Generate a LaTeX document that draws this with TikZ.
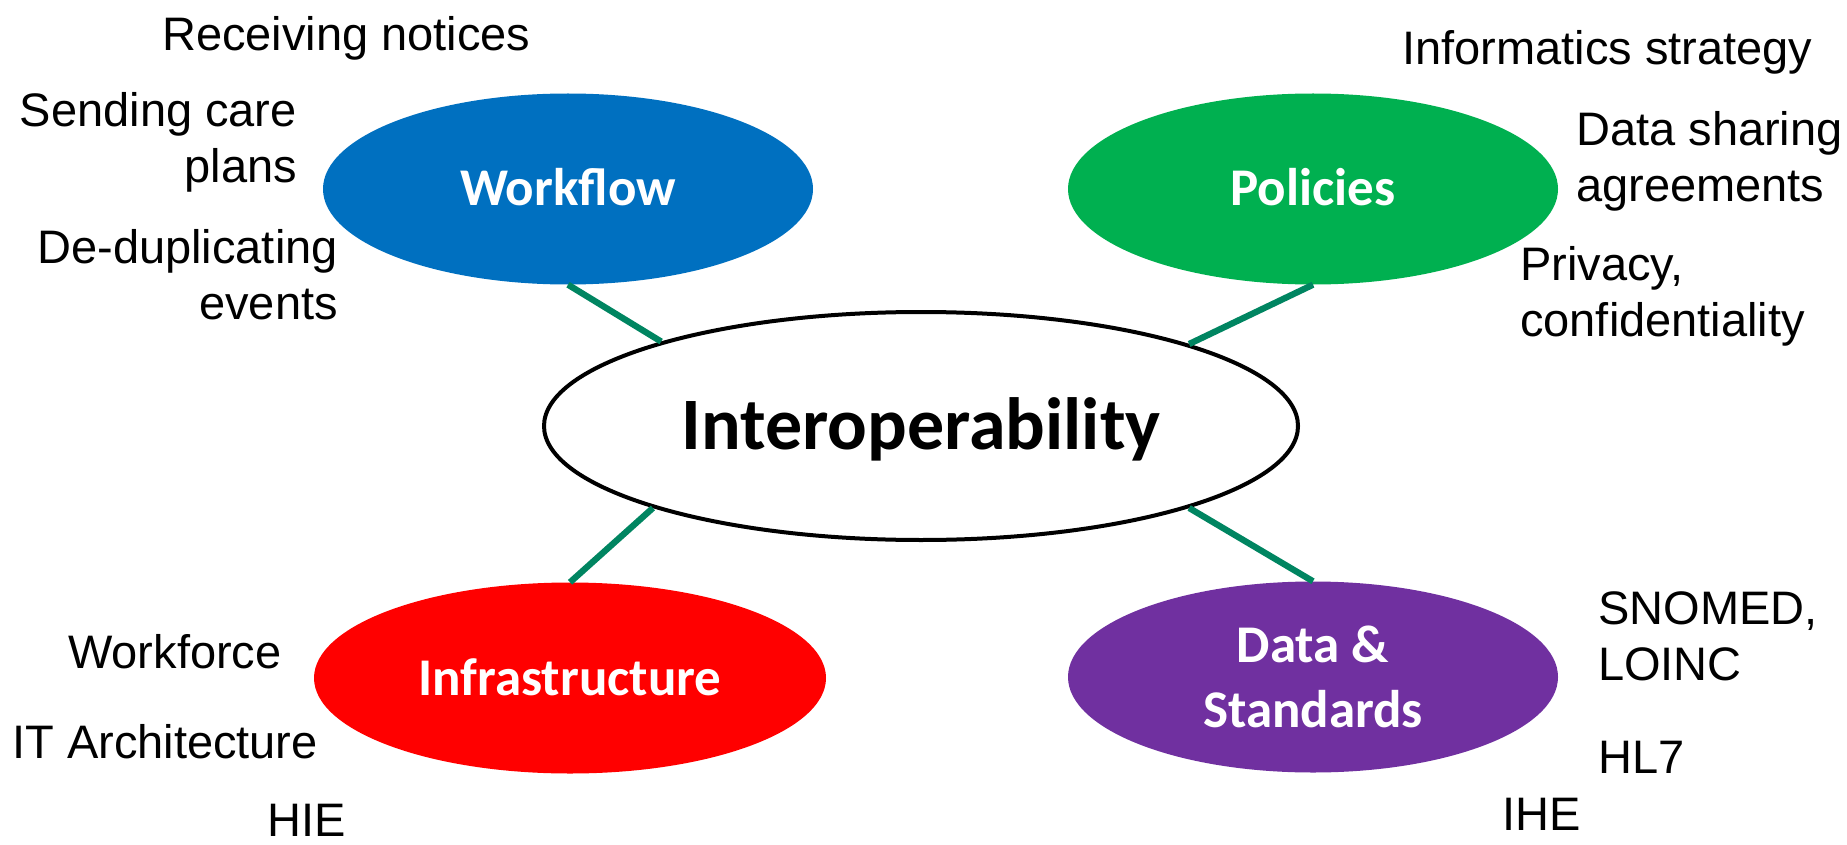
\documentclass[tikz,border=0pt]{standalone}
\usepackage{fontspec}
\setmainfont{Liberation Sans}
\newfontfamily\titlefont{Carlito}
\usetikzlibrary{shapes.geometric}
\definecolor{wfblue}{HTML}{0070C0}
\definecolor{polgreen}{HTML}{00B050}
\definecolor{infred}{HTML}{FF0000}
\definecolor{dspurple}{HTML}{7030A0}
\definecolor{linkteal}{HTML}{008561}
\begin{document}
\begin{tikzpicture}[x=1pt,y=-1pt,
  hub/.style={ellipse, draw=black, line width=4pt, fill=white, inner sep=0pt,
    minimum width=754pt, minimum height=228pt,
    font=\titlefont\bfseries\fontsize{74}{88}\selectfont, text height=47.5pt, text depth=0pt},
  topic/.style={ellipse, inner sep=0pt, minimum width=490pt, minimum height=191pt,
    text=white, font=\titlefont\bfseries\fontsize{53}{64.5}\selectfont, align=center},
  onetitle/.style={text height=34pt, text depth=0pt},
  link/.style={line width=6.3pt, draw=linkteal},
  lbl/.style={inner sep=0pt, font=\fontsize{47}{56}\selectfont}]
\fill[white] (0,0) rectangle (1847,845);
\useasboundingbox (0,0) rectangle (1847,845);

\node[hub] (hub) at (921,426) {Interoperability};
\node[topic, onetitle, fill=wfblue] (wf) at (568,189) {Workflow};
\node[topic, onetitle, fill=polgreen] (pol) at (1313,189) {Policies};
\node[topic, onetitle, fill=infred, minimum width=512pt] (inf) at (570,678) {Infrastructure};
\node[topic, fill=dspurple] (ds) at (1313,677) {Data \&\\Standards};

\draw[link] (wf.south) -- (hub.162.8);
\draw[link] (pol.south) -- (hub.17.2);
\draw[link] (inf.north) -- (hub.197);
\draw[link] (ds.north) -- (hub.-17);

\node[lbl, anchor=base west] (l1) at (162,50.7) {Receiving notices};
\node[lbl, anchor=base east, align=right] (l2) at (297,182.7) {Sending care\\plans};
\node[lbl, anchor=base east, align=right] (l3) at (338,319) {De-duplicating\\events};
\node[lbl, anchor=base west] (l4) at (1402,65) {Informatics strategy};
\node[lbl, anchor=base west, align=left] (l5) at (1576,201.7) {Data sharing\\agreements};
\node[lbl, anchor=base west, align=left] (l6) at (1520,336.7) {Privacy,\\confidentiality};
\node[lbl, anchor=base west] (l7) at (68,668) {Workforce};
\node[lbl, anchor=base west] (l8) at (12,758) {IT Architecture};
\node[lbl, anchor=base west] (l9) at (267,836) {HIE};
\node[lbl, anchor=base west, align=left] (l10) at (1598,680.7) {SNOMED,\\LOINC};
\node[lbl, anchor=base west] (l11) at (1598,773) {HL7};
\node[lbl, anchor=base west] (l12) at (1502,830) {IHE};
\end{tikzpicture}
\end{document}
